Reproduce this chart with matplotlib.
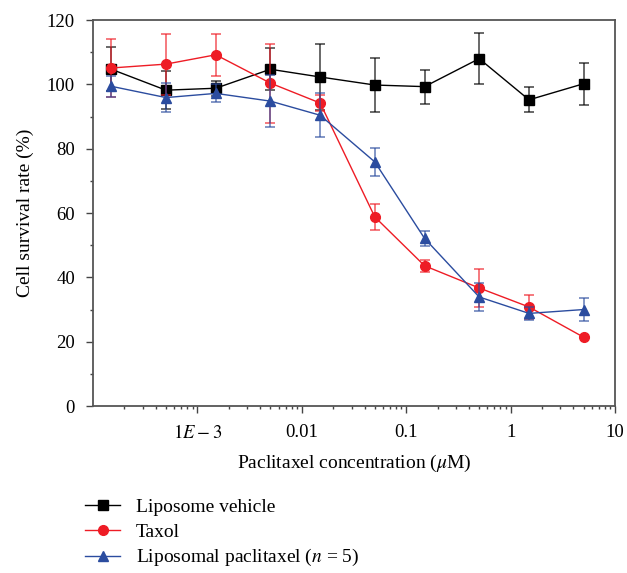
import matplotlib
matplotlib.use('Agg')
import matplotlib.pyplot as plt
from matplotlib.ticker import FixedLocator, LogLocator, NullFormatter, MultipleLocator

# concentrations (uM) and survival rates (%)
conc = [1.5e-4, 5e-4, 1.5e-3, 5e-3, 0.015, 0.05, 0.15, 0.5, 1.5, 5]

vehicle = [104.7, 98.2, 98.8, 104.7, 102.3, 99.8, 99.3, 108.0, 95.2, 100.2]
vehicle_err = [6.8, 6.0, 2.4, 6.5, 10.4, 8.3, 5.3, 8.0, 3.9, 6.6]

taxol = [105.1, 106.3, 109.2, 100.4, 94.2, 58.8, 43.6, 36.7, 30.8, 21.4]
taxol_err = [9.1, 9.5, 6.6, 12.3, 2.4, 4.0, 1.8, 5.9, 3.8, 0.0]

liposomal = [99.4, 95.9, 97.2, 94.8, 90.4, 75.9, 52.1, 33.9, 28.8, 30.0]
liposomal_err = [3.2, 4.4, 2.8, 8.0, 6.9, 4.3, 2.3, 4.3, 2.0, 3.7]

x_ticks = [1e-3, 1e-2, 0.1, 1, 10]
x_ticklabels = [r'$1E-3$', '0.01', '0.1', '1', '10']

plt.rcParams['font.family'] = 'serif'
plt.rcParams['font.serif'] = ['Liberation Serif', 'DejaVu Serif']
plt.rcParams['mathtext.fontset'] = 'stix'

fig = plt.figure(figsize=(6.27, 5.73), dpi=100)
ax = fig.add_axes([0.1483, 0.2914, 0.8326, 0.6736])

series = [
    (vehicle, vehicle_err, '#000000', 's', 'Liposome vehicle'),
    (taxol, taxol_err, '#ee1c25', 'o', 'Taxol'),
    (liposomal, liposomal_err, '#2b4c9f', '^', r'Liposomal paclitaxel ($n$ = 5)'),
]

for vals, errs, col, mk, lab in series:
    ax.errorbar(conc, vals, yerr=errs, fmt='none', ecolor=col, elinewidth=1.1,
                capsize=3.5, capthick=1.1, alpha=0.75)
    ax.plot(conc, vals, color=col, marker=mk, markersize=7, linewidth=1.0, label=lab)

ax.set_xscale('log')
ax.set_xlim(1e-4, 10)
ax.set_ylim(0, 120)

ax.xaxis.set_major_locator(FixedLocator(x_ticks))
ax.set_xticklabels(x_ticklabels)
ax.xaxis.set_minor_locator(LogLocator(base=10, subs=range(2, 10), numticks=20))
ax.xaxis.set_minor_formatter(NullFormatter())
ax.yaxis.set_major_locator(MultipleLocator(20))
ax.yaxis.set_minor_locator(MultipleLocator(10))

ax.tick_params(which='major', direction='out', length=5, width=1.0, colors='#444444',
               labelcolor='black', labelsize=13.5, pad=8)
ax.tick_params(which='minor', direction='out', length=2.5, width=1.0, colors='#444444')
for sp in ax.spines.values():
    sp.set_color('#555555')
    sp.set_linewidth(1.3)

ax.set_xlabel(r'Paclitaxel concentration ($\mu$M)', fontsize=14, labelpad=8)
ax.set_ylabel('Cell survival rate (%)', fontsize=14, labelpad=9)

fig.legend(loc='upper left', bbox_to_anchor=(0.1356, 0.13), frameon=False,
           fontsize=14, handlelength=1.8, handletextpad=0.8, labelspacing=0.35,
           borderaxespad=0, borderpad=0)

fig.savefig('out.png', dpi=100)
